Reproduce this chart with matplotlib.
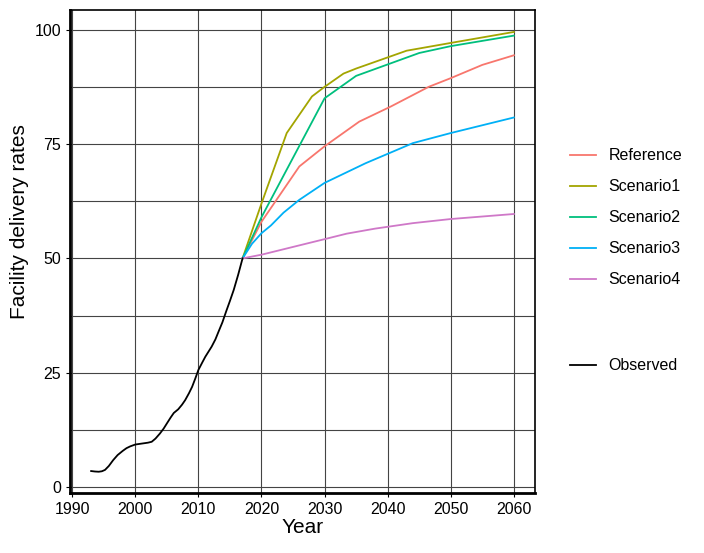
import numpy as np
import matplotlib.pyplot as plt
from matplotlib.ticker import MultipleLocator

plt.rcParams['font.family'] = ['Liberation Sans', 'DejaVu Sans']

# observed series
obs_year = [1993, 1993.6, 1994.2, 1994.7, 1995.2, 1995.8, 1996.5, 1997.2, 1998, 1998.6,
            1999.2, 2000, 2001, 2002, 2002.6, 2003.2, 2003.9, 2004.5, 2005, 2005.6,
            2006.1, 2006.8, 2007.4, 2007.9, 2008.5, 2009, 2009.5, 2010, 2010.6, 2011.1,
            2011.6, 2012.1, 2012.7, 2013.2, 2013.8, 2014.4, 2015, 2015.6, 2016.3, 2017]
obs_val = [3.5, 3.4, 3.35, 3.45, 3.75, 4.6, 5.9, 7.0, 7.9, 8.5,
           8.9, 9.3, 9.5, 9.7, 9.9, 10.6, 11.7, 12.8, 13.9, 15.2,
           16.2, 17.0, 18.0, 19.0, 20.5, 21.9, 23.7, 25.6, 27.2, 28.5,
           29.6, 30.7, 32.3, 34.0, 36.0, 38.4, 40.7, 43.1, 46.4, 50.0]

# projections
ref_year = [2017, 2020, 2026, 2030, 2035.5, 2040.5, 2046.5, 2050, 2055, 2060]
ref_val = [50, 58.0, 70.1, 74.5, 79.9, 83.2, 87.5, 89.4, 92.3, 94.4]

s1_year = [2017, 2019.5, 2020, 2024, 2028, 2030, 2033, 2035, 2043, 2050, 2060]
s1_val = [50, 60.0, 62.0, 77.4, 85.4, 87.5, 90.4, 91.5, 95.4, 97.1, 99.5]

s2_year = [2017, 2020, 2030, 2035, 2045, 2050, 2060]
s2_val = [50, 59.0, 85.0, 89.9, 94.9, 96.4, 98.7]

s3_year = [2017, 2018.5, 2020, 2021.5, 2023.5, 2026, 2030, 2036.5, 2044, 2050, 2060]
s3_val = [50, 53.2, 55.5, 57.2, 60.0, 62.8, 66.5, 70.8, 75.2, 77.4, 80.8]

s4_year = [2017, 2020, 2025, 2030, 2033.5, 2038, 2044, 2050, 2060]
s4_val = [50, 50.8, 52.5, 54.2, 55.4, 56.5, 57.7, 58.6, 59.7]

scen_names = ["Reference", "Scenario1", "Scenario2", "Scenario3", "Scenario4"]
scen_colors = ["#F8766D", "#A3A500", "#00BF7D", "#00B0F6", "#CF78C8"]
scen_data = [(ref_year, ref_val), (s1_year, s1_val), (s2_year, s2_val),
             (s3_year, s3_val), (s4_year, s4_val)]

fig = plt.figure(figsize=(7.04, 5.53), dpi=100)
ax = fig.add_axes([70/704, 1-493/553, (535-70)/704, (493-10)/553])

handles = []
for (xs, ys), name, col in zip(scen_data, scen_names, scen_colors):
    h, = ax.plot(xs, ys, color=col, lw=1.3, label=name)
    handles.append(h)
h_obs, = ax.plot(obs_year, obs_val, color="black", lw=1.3, label="Observed")

ax.set_xlim(1989.65, 2063.35)
ax.set_ylim(-1.3, 104.3)
ax.xaxis.set_major_locator(MultipleLocator(10))
ax.yaxis.set_major_locator(MultipleLocator(25))
ax.yaxis.set_minor_locator(MultipleLocator(12.5))
ax.grid(which="major", color="#444444", lw=0.8)
ax.grid(which="minor", axis="y", color="#444444", lw=0.8)
ax.set_axisbelow(True)
ax.tick_params(which="minor", length=0)
ax.tick_params(which="major", length=3, labelsize=11.5, colors="black")

for s in ax.spines.values():
    s.set_color("black")
    s.set_linewidth(1.2)
ax.spines["left"].set_linewidth(2)
ax.spines["bottom"].set_linewidth(2)

ax.set_xlabel("Year", fontsize=15, labelpad=1)
ax.set_ylabel("Facility delivery rates", fontsize=15)
ax.yaxis.set_label_coords(-0.088, 0.563)

fig.legend(handles=handles, loc="upper left", bbox_to_anchor=(556/704, 1-134/553),
           frameon=False, fontsize=11.5, handlelength=1.6, labelspacing=1.0,
           handletextpad=0.8)
fig.legend(handles=[h_obs], loc="upper left", bbox_to_anchor=(556/704, 1-344/553),
           frameon=False, fontsize=11.5, handlelength=1.6, handletextpad=0.8)

fig.savefig("out.png", dpi=100)
